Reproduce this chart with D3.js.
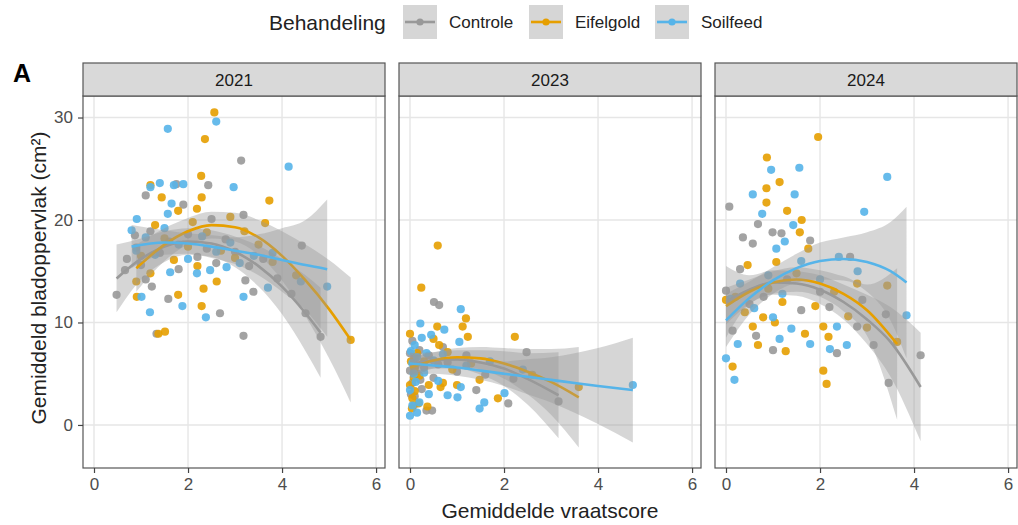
<!DOCTYPE html>
<html>
<head>
<meta charset="utf-8">
<script src="https://cdn.jsdelivr.net/npm/d3@7"></script>
<style>
  body { margin: 0; background: #fff; }
  svg { display: block; font-family: "Liberation Sans", Arial, Helvetica, sans-serif; }
</style>
</head>
<body>
<div id="chart"></div>
<script>
// facet labels, treatments and ticks
const years = ['2021', '2023', '2024'];
const treatments = ['Controle', 'Eifelgold', 'Soilfeed'];
const xTicks = [0, 2, 4, 6];
const yTicks = [0, 10, 20, 30];

// points [vraatscore, bladoppervlak]
const controle2021 = [[0.48,12.7],[0.66,15.1],[0.7,16.2],[0.87,18.5],[0.9,17.3],[1.0,15.6],[1.1,22.4],[1.1,14.2],[1.23,13.5],[1.2,18.9],[1.33,8.9],[1.4,16.8],[1.58,12.3],[1.6,17.9],[1.75,23.5],[1.8,15.2],[1.9,21.5],[2.0,18.6],[2.2,16.4],[2.4,17.2],[2.43,23.4],[2.5,20.1],[2.6,15.8],[2.68,10.9],[2.8,18.1],[3.0,16.9],[3.13,25.8],[3.18,20.5],[3.18,8.7],[3.22,14.1],[3.3,15.5],[3.39,13.0],[3.6,16.2],[3.9,14.3],[4.2,12.8],[4.42,17.5],[4.5,10.9],[4.82,8.6]];
const eifelgold2021 = [[0.91,12.5],[0.9,14.0],[1.0,16.5],[1.2,23.4],[1.2,14.8],[1.3,19.5],[1.37,8.9],[1.44,22.2],[1.51,9.1],[1.5,18.2],[1.7,16.1],[1.79,20.9],[1.79,12.7],[2.0,17.4],[2.1,19.8],[2.19,21.1],[2.2,15.5],[2.28,24.3],[2.29,22.2],[2.29,11.6],[2.33,13.3],[2.36,27.9],[2.4,18.8],[2.56,30.5],[2.61,14.0],[2.7,17.0],[2.9,20.3],[3.0,16.3],[3.2,18.9],[3.5,17.6],[3.64,19.7],[3.73,21.9],[3.8,15.9],[4.3,14.6],[5.46,8.3]];
const soilfeed2021 = [[0.8,19.0],[0.9,17.0],[0.91,20.1],[1.01,12.5],[1.1,18.3],[1.19,11.0],[1.2,23.2],[1.3,16.6],[1.4,23.6],[1.5,19.2],[1.57,20.6],[1.57,28.9],[1.62,14.9],[1.65,21.6],[1.7,23.4],[1.8,17.6],[1.88,11.6],[1.9,23.5],[2.0,16.2],[2.19,14.8],[2.3,18.4],[2.38,10.5],[2.47,15.1],[2.6,29.6],[2.6,16.9],[2.82,15.4],[2.9,17.8],[2.97,23.2],[3.1,15.8],[3.18,12.5],[3.4,16.5],[3.7,13.4],[3.8,16.8],[4.14,25.2],[4.4,14.0],[4.96,13.5]];

const controle2023 = [[0.0,5.3],[0.0,7.0],[0.02,3.0],[0.05,8.2],[0.05,4.1],[0.08,1.9],[0.1,6.5],[0.1,2.8],[0.12,5.8],[0.15,5.0],[0.2,7.3],[0.22,4.4],[0.25,3.5],[0.3,5.6],[0.35,1.4],[0.4,6.8],[0.47,1.4],[0.5,4.6],[0.51,12.0],[0.6,5.9],[0.62,11.7],[0.7,7.6],[0.8,6.1],[1.0,5.2],[1.2,6.8],[1.41,3.4],[1.6,4.9],[2.09,2.1],[2.2,4.5],[2.48,7.1],[3.16,2.3]];
const eifelgold2023 = [[0.0,8.9],[0.0,3.9],[0.02,6.2],[0.04,1.6],[0.05,2.6],[0.08,4.6],[0.1,3.3],[0.1,5.5],[0.15,7.0],[0.18,2.1],[0.2,4.8],[0.24,13.4],[0.3,6.2],[0.37,1.8],[0.4,3.9],[0.5,8.4],[0.58,9.6],[0.59,17.5],[0.62,7.8],[0.65,3.7],[0.7,4.1],[0.8,7.1],[0.9,5.4],[1.0,3.9],[1.12,9.6],[1.19,10.4],[1.23,8.6],[1.3,6.0],[1.48,4.4],[1.87,2.6],[2.23,8.6],[2.6,4.9],[3.59,3.7]];
const soilfeed2023 = [[0.0,0.9],[0.0,3.4],[0.02,7.2],[0.05,6.0],[0.05,1.9],[0.08,5.0],[0.1,7.8],[0.12,4.2],[0.15,1.2],[0.15,6.6],[0.2,2.2],[0.22,9.9],[0.25,8.5],[0.3,5.1],[0.35,7.0],[0.4,3.0],[0.45,8.8],[0.5,6.3],[0.6,4.3],[0.73,9.3],[0.7,6.9],[0.8,2.9],[1.01,2.7],[1.05,8.1],[1.08,3.7],[1.08,11.3],[1.2,5.8],[1.48,1.6],[1.58,2.2],[1.7,6.2],[2.01,3.1],[2.4,5.4],[4.74,3.9]];

const controle2024 = [[0.0,13.1],[0.07,21.3],[0.14,9.2],[0.3,15.2],[0.36,18.3],[0.5,11.8],[0.57,17.7],[0.64,8.7],[0.68,19.6],[0.8,12.5],[0.99,18.8],[1.0,7.3],[1.18,18.7],[1.3,14.2],[1.6,11.2],[1.79,18.0],[2.0,13.0],[2.2,11.5],[2.36,7.0],[2.64,16.4],[2.79,9.6],[2.9,12.2],[3.14,7.8],[3.4,10.8],[3.46,4.1],[4.14,6.8]];
const eifelgold2024 = [[0.0,12.2],[0.14,5.7],[0.2,12.5],[0.4,11.0],[0.46,15.6],[0.57,9.6],[0.68,7.8],[0.79,10.5],[0.86,23.1],[0.86,21.7],[0.87,26.1],[0.9,13.3],[1.04,10.0],[1.07,15.9],[1.14,23.7],[1.2,12.0],[1.27,7.2],[1.3,20.9],[1.5,14.8],[1.57,18.8],[1.61,20.0],[1.68,8.9],[1.75,17.2],[1.9,11.6],[1.96,28.1],[2.07,9.6],[2.07,5.3],[2.14,4.0],[2.18,8.6],[2.3,13.0],[2.6,10.6],[2.79,13.8],[3.0,9.5],[3.43,13.6],[3.64,8.1]];
const soilfeed2024 = [[0.0,6.5],[0.1,12.3],[0.18,4.4],[0.25,7.9],[0.3,13.8],[0.57,22.5],[0.6,11.4],[0.77,20.6],[0.9,14.6],[0.96,24.9],[1.0,10.5],[1.07,17.2],[1.14,8.4],[1.2,12.8],[1.25,17.9],[1.39,9.4],[1.43,19.5],[1.46,22.5],[1.56,25.1],[1.6,16.0],[1.79,7.9],[2.0,14.2],[2.21,7.4],[2.36,9.6],[2.4,16.4],[2.57,7.8],[2.8,15.0],[2.94,20.8],[3.43,24.2],[3.84,10.7]];

// smoothed fits [x, fit, lower, upper]
const fitControle2021 = [[0.48,14.3,11.0,17.6],[1.0,16.2,14.2,18.2],[1.5,17.4,15.9,18.9],[2.0,17.9,16.6,19.2],[2.5,17.7,16.4,19.0],[3.0,16.9,15.4,18.4],[3.5,15.5,13.5,17.5],[4.0,13.5,10.8,16.2],[4.5,10.9,7.2,14.6],[4.82,9.0,4.6,13.4]];
const fitEifelgold2021 = [[0.9,15.3,13.0,17.6],[1.5,17.6,16.0,19.2],[2.0,18.9,17.6,20.2],[2.5,19.5,18.2,20.8],[3.0,19.3,17.9,20.7],[3.5,18.3,16.6,20.0],[4.0,16.5,14.1,18.9],[4.5,14.1,10.6,17.6],[5.0,11.3,6.5,16.1],[5.46,8.3,2.2,14.4]];
const fitSoilfeed2021 = [[0.8,17.4,15.3,19.5],[1.5,17.8,16.6,19.0],[2.0,17.7,16.7,18.7],[2.5,17.4,16.3,18.5],[3.0,17.0,15.7,18.3],[3.5,16.6,14.6,18.6],[4.0,16.1,13.0,19.2],[4.5,15.6,11.2,20.0],[4.96,15.2,8.6,22.0]];

const fitControle2023 = [[0.0,5.9,4.8,7.0],[0.5,6.3,5.5,7.1],[1.0,6.4,5.5,7.3],[1.5,6.1,4.9,7.3],[2.0,5.5,3.8,7.2],[2.5,4.5,2.0,7.0],[3.16,2.9,-1.3,7.1]];
const fitEifelgold2023 = [[0.0,5.6,4.5,6.7],[0.5,6.3,5.5,7.1],[1.0,6.6,5.7,7.5],[1.5,6.5,5.4,7.6],[2.0,6.0,4.5,7.5],[2.5,5.2,3.0,7.4],[3.0,4.2,1.0,7.4],[3.59,2.7,-2.2,7.6]];
const fitSoilfeed2023 = [[0.0,6.0,4.9,7.1],[0.5,5.8,5.0,6.6],[1.0,5.6,4.8,6.4],[1.5,5.3,4.4,6.2],[2.0,5.0,3.8,6.2],[2.5,4.7,3.0,6.4],[3.0,4.4,2.2,6.6],[3.5,4.1,1.2,7.0],[4.0,3.8,0.1,7.5],[4.74,3.4,-1.7,8.5]];

const fitControle2024 = [[0.0,12.0,8.5,15.5],[0.5,13.2,11.8,14.6],[1.0,13.9,12.7,15.1],[1.5,13.8,12.6,15.0],[2.0,13.2,11.8,14.6],[2.5,12.0,10.3,13.7],[3.0,10.3,7.9,12.7],[3.5,8.1,4.7,11.5],[4.14,3.7,-1.6,9.0]];
const fitEifelgold2024 = [[0.0,11.6,9.8,13.4],[0.5,13.0,11.8,14.2],[1.0,13.9,12.8,15.0],[1.5,14.2,13.0,15.4],[2.0,13.8,12.5,15.1],[2.5,12.8,11.1,14.5],[3.0,11.2,8.7,13.7],[3.64,7.9,0.5,15.3]];
const fitSoilfeed2024 = [[0.0,10.2,7.6,12.8],[0.5,12.4,10.8,14.0],[1.0,14.1,12.8,15.4],[1.5,15.3,13.9,16.7],[2.0,16.0,14.2,17.8],[2.5,16.2,14.1,18.3],[3.0,15.9,13.0,18.8],[3.5,15.0,10.2,19.8],[3.84,13.9,6.5,21.3]];

// lookup tables built from the arrays above
const pointsByYear = {
  '2021': [controle2021, eifelgold2021, soilfeed2021],
  '2023': [controle2023, eifelgold2023, soilfeed2023],
  '2024': [controle2024, eifelgold2024, soilfeed2024]
};
const fitsByYear = {
  '2021': [fitControle2021, fitEifelgold2021, fitSoilfeed2021],
  '2023': [fitControle2023, fitEifelgold2023, fitSoilfeed2023],
  '2024': [fitControle2024, fitEifelgold2024, fitSoilfeed2024]
};

const colour = d3.scaleOrdinal()
  .domain(treatments)
  .range(['#999999', '#E69F00', '#56B4E9']);

const w = 1018;
const h = 525;
const panelX = [83, 399, 715];
const panelW = 302;
const stripTop = 63;
const panelTop = 96;
const panelBottom = 468;

const svg = d3.select('#chart')
  .append('svg')
  .attr('width', w)
  .attr('height', h);

const y = d3.scaleLinear()
  .domain([-4.2, 32.1])
  .range([panelBottom, panelTop]);

years.forEach((year, i) => {
  const x = d3.scaleLinear()
    .domain([-0.234, 6.19])
    .range([panelX[i], panelX[i] + panelW]);

  const g = svg.append('g').attr('class', 'panel');

  g.append('clipPath')
    .attr('id', `clip-${year}`)
    .append('rect')
    .attr('x', panelX[i])
    .attr('y', panelTop)
    .attr('width', panelW)
    .attr('height', panelBottom - panelTop);

  // grid
  g.selectAll('.vgrid')
    .data(xTicks)
    .enter()
    .append('line')
    .attr('x1', d => x(d)).attr('x2', d => x(d))
    .attr('y1', panelTop).attr('y2', panelBottom)
    .attr('stroke', '#e6e6e6')
    .attr('stroke-width', 1.4);

  g.selectAll('.hgrid')
    .data(yTicks)
    .enter()
    .append('line')
    .attr('x1', panelX[i]).attr('x2', panelX[i] + panelW)
    .attr('y1', d => y(d)).attr('y2', d => y(d))
    .attr('stroke', '#e6e6e6')
    .attr('stroke-width', 1.4);

  const plot = g.append('g').attr('clip-path', `url(#clip-${year})`);

  // points
  pointsByYear[year].forEach((pts, k) => {
    plot.selectAll(null)
      .data(pts)
      .enter()
      .append('circle')
      .attr('cx', d => x(d[0]))
      .attr('cy', d => y(d[1]))
      .attr('r', 4.1)
      .attr('fill', colour(treatments[k]))
      .attr('opacity', 0.9);
  });

  // smooth ribbons + lines
  const area = d3.area()
    .x(d => x(d[0]))
    .y0(d => y(d[2]))
    .y1(d => y(d[3]))
    .curve(d3.curveMonotoneX);

  const line = d3.line()
    .x(d => x(d[0]))
    .y(d => y(d[1]))
    .curve(d3.curveMonotoneX);

  fitsByYear[year].forEach((fit, k) => {
    plot.append('path')
      .attr('d', area(fit))
      .attr('fill', '#999999')
      .attr('fill-opacity', 0.4);
    plot.append('path')
      .attr('d', line(fit))
      .attr('fill', 'none')
      .attr('stroke', colour(treatments[k]))
      .attr('stroke-width', 2.6);
  });

  // panel border
  g.append('rect')
    .attr('x', panelX[i])
    .attr('y', panelTop)
    .attr('width', panelW)
    .attr('height', panelBottom - panelTop)
    .attr('fill', 'none')
    .attr('stroke', '#555')
    .attr('stroke-width', 1.2);

  // strip
  g.append('rect')
    .attr('x', panelX[i])
    .attr('y', stripTop)
    .attr('width', panelW)
    .attr('height', panelTop - stripTop)
    .attr('fill', '#d9d9d9')
    .attr('stroke', '#555')
    .attr('stroke-width', 1.2);

  g.append('text')
    .attr('x', panelX[i] + panelW / 2)
    .attr('y', (stripTop + panelTop) / 2)
    .attr('dy', '0.36em')
    .attr('text-anchor', 'middle')
    .attr('font-size', 17)
    .attr('fill', '#1a1a1a')
    .text(year);

  // x axis
  const xAxis = d3.axisBottom(x)
    .tickValues(xTicks)
    .tickFormat(d3.format('d'))
    .tickSize(5)
    .tickPadding(5);

  g.append('g')
    .classed('x-axis', true)
    .attr('transform', `translate(0, ${panelBottom})`)
    .call(xAxis);
});

// y axis on the first panel
const yAxis = d3.axisLeft(y)
  .tickValues(yTicks)
  .tickFormat(d3.format('d'))
  .tickSize(5)
  .tickPadding(5);

svg.append('g')
  .classed('y-axis', true)
  .attr('transform', `translate(${panelX[0]}, 0)`)
  .call(yAxis);

svg.selectAll('.domain').remove();
svg.selectAll('.x-axis .tick line, .y-axis .tick line')
  .attr('stroke', '#444')
  .attr('stroke-width', 1.2);
svg.selectAll('.x-axis text, .y-axis text')
  .attr('font-size', 17)
  .attr('fill', '#4d4d4d')
  .attr('font-family', null);

// axis titles
svg.append('text')
  .attr('x', (panelX[0] + panelX[2] + panelW) / 2)
  .attr('y', 518)
  .attr('text-anchor', 'middle')
  .attr('font-size', 21)
  .attr('fill', '#222')
  .text('Gemiddelde vraatscore');

svg.append('text')
  .attr('transform', `translate(46, ${(panelTop + panelBottom) / 2 - 4}) rotate(-90)`)
  .attr('text-anchor', 'middle')
  .attr('font-size', 21)
  .attr('fill', '#222')
  .text('Gemiddeld bladoppervlak (cm²)');

// tag
svg.append('text')
  .attr('x', 13)
  .attr('y', 82)
  .attr('font-size', 25)
  .attr('font-weight', 'bold')
  .attr('fill', '#000')
  .text('A');

// legend
const legend = svg.append('g').attr('class', 'legend');
legend.append('text')
  .attr('x', 269)
  .attr('y', 22)
  .attr('dy', '0.36em')
  .attr('font-size', 21)
  .attr('fill', '#222')
  .text('Behandeling');

const keyX = [403, 529, 655];
treatments.forEach((t, k) => {
  const kg = legend.append('g').attr('transform', `translate(${keyX[k]}, 5)`);
  kg.append('rect')
    .attr('width', 34)
    .attr('height', 34)
    .attr('fill', '#999999')
    .attr('fill-opacity', 0.4);
  kg.append('line')
    .attr('x1', 2).attr('x2', 32)
    .attr('y1', 17).attr('y2', 17)
    .attr('stroke', colour(t))
    .attr('stroke-width', 2.6);
  kg.append('circle')
    .attr('cx', 17).attr('cy', 17)
    .attr('r', 3.6)
    .attr('fill', colour(t));
  legend.append('text')
    .attr('x', keyX[k] + 46)
    .attr('y', 22)
    .attr('dy', '0.36em')
    .attr('font-size', 17)
    .attr('fill', '#222')
    .text(t);
});
</script>
</body>
</html>
